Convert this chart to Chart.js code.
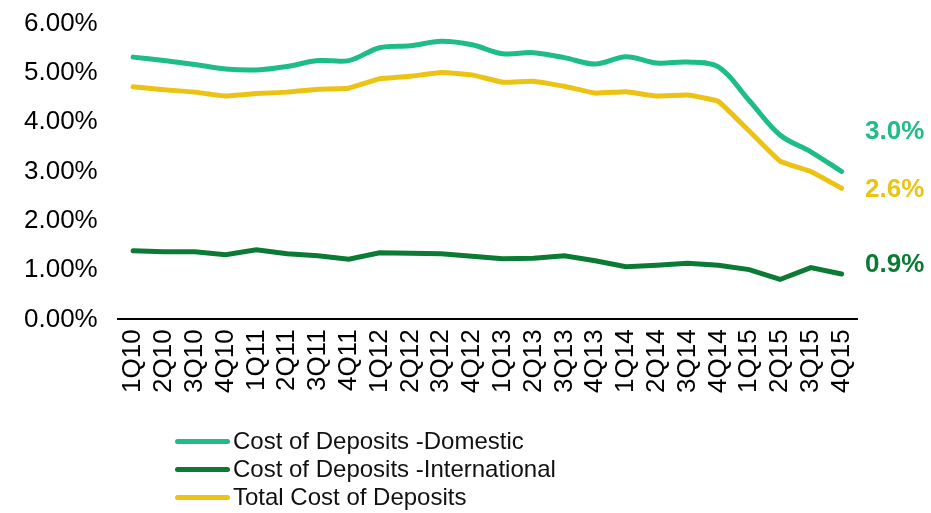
<!DOCTYPE html>
<html>
<head>
<meta charset="utf-8">
<script src="https://cdn.jsdelivr.net/npm/chart.js@4.4.1/dist/chart.umd.min.js"></script>
<style>
    html, body { margin: 0; padding: 0; background: #fff; }
    #wrap { position: relative; width: 931px; height: 513px; }
    #legend { position: absolute; left: 175px; top: 427px; font-family: Arial, "Liberation Sans", sans-serif; font-size: 24px; color: #111; }
    .row { display: flex; align-items: center; height: 28px; }
    .swatch { width: 55px; height: 5px; border-radius: 3px; margin-right: 3px; }
</style>
</head>
<body>
<div id="wrap">
    <canvas id="depositsChart" width="931" height="513"></canvas>
    <div id="legend"></div>
</div>
<script>
// quarters
const quarters = ['1Q10', '2Q10', '3Q10', '4Q10', '1Q11', '2Q11', '3Q11', '4Q11',
    '1Q12', '2Q12', '3Q12', '4Q12', '1Q13', '2Q13', '3Q13', '4Q13',
    '1Q14', '2Q14', '3Q14', '4Q14', '1Q15', '2Q15', '3Q15', '4Q15'];

// cost of deposits, %
const domestic = [5.32, 5.25, 5.17, 5.08, 5.06, 5.13, 5.25, 5.25, 5.51, 5.55, 5.64, 5.57,
    5.39, 5.41, 5.31, 5.18, 5.33, 5.20, 5.22, 5.12, 4.44, 3.74, 3.40, 3.00];
const international = [1.39, 1.37, 1.37, 1.31, 1.41, 1.33, 1.29, 1.22, 1.35, 1.34, 1.33, 1.28,
    1.23, 1.24, 1.29, 1.19, 1.07, 1.10, 1.14, 1.10, 1.01, 0.81, 1.05, 0.92];
const total = [4.72, 4.66, 4.61, 4.53, 4.58, 4.61, 4.67, 4.69, 4.88, 4.93, 5.01, 4.96,
    4.81, 4.83, 4.73, 4.59, 4.62, 4.53, 4.55, 4.42, 3.82, 3.21, 3.00, 2.66];

const yTicks = [0, 1, 2, 3, 4, 5, 6];

// end-of-line labels
const endLabels = ['3.0%', '0.9%', '2.6%'];
const endLabelShift = [-40, -9, 2];

const FONT = 'Arial, "Liberation Sans", sans-serif';
const GREEN = '#1dbd85';
const DARK_GREEN = '#0b7a34';
const YELLOW = '#ecc313';

const endLabelPlugin = {
    id: 'endLabels',
    afterDatasetsDraw(chart) {
        const ctx = chart.ctx;
        const y = chart.scales.y;
        ctx.save();
        ctx.font = 'bold 26px ' + FONT;
        ctx.textBaseline = 'middle';
        ctx.textAlign = 'left';
        chart.data.datasets.forEach(function(ds, i) {
            const last = ds.data[ds.data.length - 1];
            ctx.fillStyle = ds.borderColor;
            ctx.fillText(endLabels[i], chart.chartArea.right + 8, y.getPixelForValue(last) + endLabelShift[i]);
        });
        ctx.restore();
    }
};

const config = {
    type: 'line',
    data: {
        labels: quarters,
        datasets: [{
            label: 'Cost of Deposits -Domestic',
            data: domestic,
            borderColor: GREEN,
            borderWidth: 5,
            borderCapStyle: 'round',
            tension: 0.35,
            pointRadius: 0
        }, {
            label: 'Cost of Deposits -International',
            data: international,
            borderColor: DARK_GREEN,
            borderWidth: 5,
            borderCapStyle: 'round',
            tension: 0,
            pointRadius: 0
        }, {
            label: 'Total Cost of Deposits',
            data: total,
            borderColor: YELLOW,
            borderWidth: 5,
            borderCapStyle: 'round',
            tension: 0.1,
            pointRadius: 0
        }]
    },
    options: {
        responsive: false,
        animation: false,
        layout: {
            padding: { left: 12, right: 74, top: 0, bottom: 118 }
        },
        plugins: {
            legend: { display: false },
            tooltip: { enabled: false }
        },
        scales: {
            x: {
                offset: true,
                grid: { display: false },
                border: { display: true, color: '#000', width: 2 },
                ticks: {
                    color: '#000',
                    font: { family: FONT, size: 26 },
                    minRotation: 90,
                    maxRotation: 90,
                    autoSkip: false,
                    padding: 2
                }
            },
            y: {
                min: 0,
                max: 6,
                grid: { display: false },
                border: { display: false },
                afterBuildTicks: function(scale) {
                    scale.ticks = yTicks.map(v => ({ value: v }));
                },
                afterFit: function(scale) {
                    // pull the top of the plot up a little
                    scale.paddingTop -= 4;
                },
                ticks: {
                    color: '#000',
                    font: { family: FONT, size: 26 },
                    padding: 12,
                    callback: function(value) {
                        return value.toFixed(2) + '%';
                    }
                }
            }
        }
    },
    plugins: [endLabelPlugin]
};

const chart = new Chart(document.getElementById('depositsChart'), config);

// legend
const legend = document.getElementById('legend');
chart.data.datasets.forEach(function(ds) {
    const row = document.createElement('div');
    row.className = 'row';
    const sw = document.createElement('span');
    sw.className = 'swatch';
    sw.style.background = ds.borderColor;
    const txt = document.createElement('span');
    txt.textContent = ds.label;
    row.appendChild(sw);
    row.appendChild(txt);
    legend.appendChild(row);
});
</script>
</body>
</html>
